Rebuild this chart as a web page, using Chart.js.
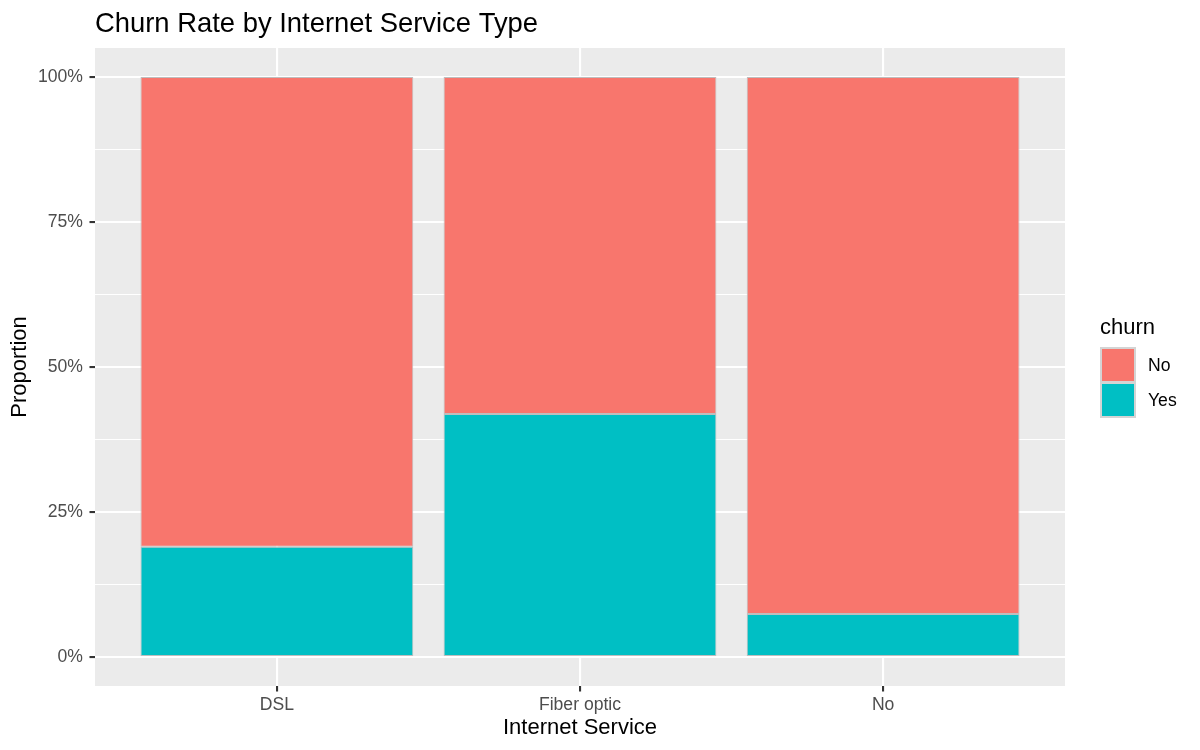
<!DOCTYPE html>
<html>
<head>
<meta charset="utf-8">
<title>Churn Rate by Internet Service Type</title>
<script src="https://cdn.jsdelivr.net/npm/chart.js@4.4.1/dist/chart.umd.min.js"></script>
<style>
  body { margin: 0; background: #fff; }
  canvas { display: block; }
</style>
</head>
<body>
<canvas id="churnChart" width="1200" height="750"></canvas>
<script>
// data
var services = ["DSL", "Fiber optic", "No"];
var churnYes = [0.190, 0.419, 0.074];
var churnNo = [0.810, 0.581, 0.926];
var yTicks = [0, 0.125, 0.25, 0.375, 0.5, 0.625, 0.75, 0.875, 1];
var legendLabels = ["No", "Yes"];

var colNo = "#F8766D";
var colYes = "#00BFC4";
var fontFam = "'Liberation Sans', Arial, Helvetica, sans-serif";

Chart.defaults.font.family = fontFam;

function isMajor(v) {
  return Math.abs(v * 4 - Math.round(v * 4)) < 1e-6;
}

// gray panel, title and legend drawn like ggplot
var ggExtras = {
  id: 'ggExtras',
  beforeDraw: function (chart) {
    var a = chart.chartArea, ctx = chart.ctx;
    ctx.save();
    ctx.fillStyle = '#EBEBEB';
    ctx.fillRect(a.left, a.top, a.right - a.left, a.bottom - a.top);
    ctx.restore();
  },
  afterDraw: function (chart) {
    var a = chart.chartArea, ctx = chart.ctx;
    ctx.save();
    ctx.fillStyle = '#000';
    ctx.textAlign = 'left';
    ctx.textBaseline = 'alphabetic';
    ctx.font = '27.4px ' + fontFam;
    ctx.fillText('Churn Rate by Internet Service Type', a.left, 32);

    // legend
    var lx = a.right + 35;
    ctx.font = '22px ' + fontFam;
    ctx.fillText('churn', lx, 334);
    var cols = [colNo, colYes];
    ctx.font = '17.6px ' + fontFam;
    for (var i = 0; i < legendLabels.length; i++) {
      var ky = 348 + i * 35;
      ctx.fillStyle = cols[i];
      ctx.fillRect(lx + 1, ky, 34, 34);
      ctx.strokeStyle = '#D4D4D4';
      ctx.lineWidth = 2;
      ctx.strokeRect(lx + 1, ky, 34, 34);
      ctx.fillStyle = '#000';
      ctx.fillText(legendLabels[i], lx + 48, ky + 23);
    }
    ctx.restore();
  }
};

var ctx = document.getElementById('churnChart').getContext('2d');
var chart = new Chart(ctx, {
  type: 'bar',
  data: {
    datasets: [{
      label: 'Yes',
      data: churnYes.map(function (v, i) { return {x: i + 1, y: v}; }),
      backgroundColor: colYes,
      borderColor: '#BEBEBE',
      borderWidth: 1,
      borderSkipped: false,
      categoryPercentage: 0.9,
      barPercentage: 1
    }, {
      label: 'No',
      data: churnNo.map(function (v, i) { return {x: i + 1, y: v}; }),
      backgroundColor: colNo,
      borderColor: '#BEBEBE',
      borderWidth: 1,
      borderSkipped: false,
      categoryPercentage: 0.9,
      barPercentage: 1
    }]
  },
  options: {
    responsive: false,
    animation: false,
    layout: { padding: { top: 48, right: 135, left: 0, bottom: 0 } },
    plugins: {
      legend: { display: false },
      tooltip: { enabled: false },
      title: { display: false }
    },
    scales: {
      x: {
        type: 'linear',
        stacked: true,
        offset: false,
        min: 0.4,
        max: 3.6,
        afterBuildTicks: function (axis) {
          axis.ticks = services.map(function (s, i) { return {value: i + 1}; });
        },
        afterFit: function (axis) { axis.height = 64; },
        border: { display: false },
        grid: {
          offset: false,
          color: '#FFFFFF',
          lineWidth: 2.1,
          tickLength: 5.5,
          tickColor: '#333333',
          tickWidth: 2.1
        },
        ticks: {
          autoSkip: false,
          maxRotation: 0,
          padding: 3,
          color: '#4D4D4D',
          font: { size: 17.6 },
          callback: function (v) { return services[v - 1]; }
        },
        title: {
          display: true,
          text: 'Internet Service',
          color: '#000',
          font: { size: 22 },
          padding: { top: 0, bottom: 9 }
        }
      },
      y: {
        stacked: true,
        min: -0.05,
        max: 1.05,
        afterBuildTicks: function (axis) {
          axis.ticks = yTicks.map(function (v) { return {value: v}; });
        },
        afterFit: function (axis) { axis.width = 95; },
        border: { display: false },
        grid: {
          color: '#FFFFFF',
          lineWidth: function (c) { return isMajor(c.tick.value) ? 2.1 : 1.1; },
          tickLength: 5.5,
          tickColor: function (c) { return isMajor(c.tick.value) ? '#333333' : 'rgba(0,0,0,0)'; },
          tickWidth: 2.1
        },
        ticks: {
          autoSkip: false,
          padding: 6.5,
          color: '#4D4D4D',
          font: { size: 17.6 },
          callback: function (v) { return isMajor(v) ? Math.round(v * 100) + '%' : ''; }
        },
        title: {
          display: true,
          text: 'Proportion',
          color: '#000',
          font: { size: 22 },
          padding: { top: 7, bottom: 0 }
        }
      }
    }
  },
  plugins: [ggExtras]
});
</script>
</body>
</html>
